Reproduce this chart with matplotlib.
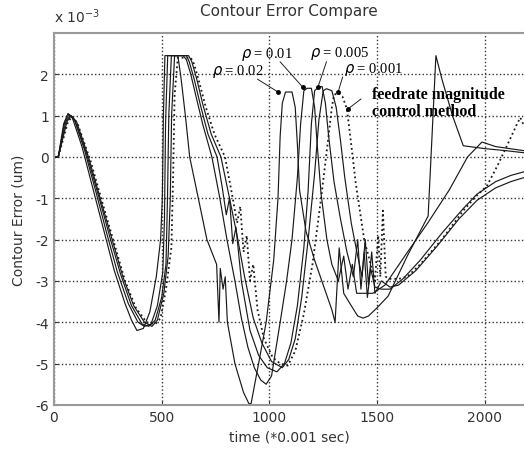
import numpy as np
import matplotlib
matplotlib.use("Agg")
import matplotlib.pyplot as plt

plt.rcParams['axes.unicode_minus'] = False
plt.rcParams['font.family'] = ['DejaVu Sans']

# curves: (time *0.001 s, contour error x1e-3 um)
rho_002 = [(0, 0), (20, 0), (45, 0.8), (65, 1.05), (85, 0.95), (130, 0.25), (180, -0.75),
           (230, -1.75), (280, -2.75), (330, -3.55), (360, -3.95), (385, -4.2), (415, -4.15),
           (445, -3.75), (475, -2.9), (495, -2.0), (503, -1.0), (508, 1.0), (515, 2.45),
           (575, 2.45), (590, 1.9), (610, 1.0), (630, 0), (670, -1.0), (710, -2.0),
           (755, -2.6), (766, -4.0), (772, -2.7), (785, -3.2), (795, -2.9), (805, -4.0),
           (840, -5.0), (880, -5.7), (905, -5.97), (915, -5.97), (950, -5.0), (985, -4.0),
           (1020, -2.5), (1040, -1.0), (1050, 0.5), (1060, 1.3), (1075, 1.57), (1105, 1.57),
           (1120, 1.2), (1130, 0.3), (1140, -0.8), (1170, -1.8), (1210, -2.5), (1250, -3.1),
           (1290, -3.7), (1305, -4.0), (1324, -2.2), (1345, -3.3), (1380, -3.6), (1410, -3.85),
           (1435, -3.9), (1460, -3.85), (1500, -3.65), (1551, -3.37), (1640, -2.4),
           (1737, -1.43), (1755, 0.5), (1773, 2.45), (1800, 1.9), (1850, 1.0), (1900, 0.27),
           (2000, 0.2), (2100, 0.15), (2182, 0.1)]

rho_001 = [(0, 0), (20, 0), (50, 0.85), (70, 1.03), (95, 0.9), (140, 0.2), (195, -0.85),
           (245, -1.85), (295, -2.8), (345, -3.55), (390, -4.0), (420, -4.1), (450, -4.05),
           (480, -3.6), (505, -2.8), (513, -1.5), (518, 0.8), (528, 2.45), (600, 2.45),
           (615, 2.35), (635, 2.0), (660, 1.45), (690, 0.8), (733, 0), (770, -1.0), (803, -2.0),
           (840, -3.0), (870, -3.9), (900, -4.6), (930, -5.1), (960, -5.4), (985, -5.5),
           (1010, -5.3), (1050, -4.0), (1080, -3.0), (1105, -2.0), (1130, -0.5), (1145, 0.8),
           (1160, 1.6), (1175, 1.66), (1195, 1.66), (1210, 1.2), (1222, 0.3), (1240, -0.9),
           (1267, -2.0), (1290, -2.6), (1320, -3.0), (1345, -2.4), (1365, -3.2), (1385, -2.6),
           (1405, -3.3), (1440, -3.3), (1480, -3.3), (1537, -3.1), (1635, -2.35), (1735, -1.6),
           (1835, -0.8), (1920, 0.0), (1987, 0.36), (2050, 0.25), (2182, 0.15)]

rho_0005 = [(0, 0), (20, 0), (55, 0.85), (75, 1.0), (100, 0.85), (150, 0.1), (210, -1.0),
            (260, -1.95), (310, -2.85), (360, -3.6), (410, -4.05), (440, -4.1), (470, -3.95),
            (500, -3.4), (520, -2.6), (527, -1.0), (533, 1.0), (545, 2.45), (615, 2.45),
            (628, 2.3), (650, 1.9), (680, 1.25), (715, 0.55), (757, 0), (780, -0.7), (800, -1.4),
            (815, -1.0), (830, -2.1), (845, -1.7), (870, -3.0), (910, -4.2), (950, -4.8),
            (990, -5.1), (1035, -5.2), (1070, -5.0), (1100, -4.5), (1130, -3.6), (1160, -2.2),
            (1180, -0.8), (1195, 0.8), (1210, 1.6), (1230, 1.7), (1245, 1.7), (1260, 1.3),
            (1275, 0.5), (1300, -0.6), (1330, -1.5), (1360, -2.3), (1390, -2.9), (1410, -2.0),
            (1425, -3.2), (1440, -2.3), (1455, -3.4), (1470, -2.7), (1490, -3.15), (1520, -3.2),
            (1560, -3.2), (1620, -2.95), (1700, -2.5), (1800, -1.85), (1900, -1.25),
            (1964, -0.9), (2050, -0.6), (2120, -0.45), (2182, -0.36)]

rho_0001 = [(0, 0), (20, 0), (60, 0.85), (80, 1.0), (105, 0.85), (160, 0.0), (220, -1.1),
            (270, -2.0), (320, -2.9), (370, -3.6), (420, -4.0), (455, -4.1), (480, -3.95),
            (510, -3.3), (530, -2.4), (540, -1.0), (546, 1.0), (560, 2.45), (625, 2.45),
            (640, 2.3), (662, 1.9), (692, 1.25), (730, 0.55), (775, 0), (815, -1.0),
            (850, -1.9), (885, -2.9), (925, -3.9), (965, -4.5), (1010, -4.95), (1060, -5.1),
            (1090, -4.9), (1120, -4.4), (1150, -3.4), (1180, -2.0), (1210, -0.4), (1230, 0.9),
            (1250, 1.6), (1265, 1.65), (1290, 1.6), (1310, 1.2), (1330, 0.4), (1350, -0.5),
            (1380, -1.6), (1410, -2.4), (1430, -2.9), (1445, -2.0), (1460, -3.1), (1475, -2.3),
            (1490, -3.3), (1520, -3.0), (1560, -3.15), (1600, -3.1), (1680, -2.75),
            (1780, -2.15), (1880, -1.5), (1964, -1.05), (2050, -0.75), (2120, -0.6),
            (2182, -0.5)]

feedrate = [(0, 0), (20, 0), (65, 0.85), (85, 0.98), (110, 0.8), (170, -0.1), (230, -1.2),
            (280, -2.1), (330, -3.0), (380, -3.65), (430, -4.0), (470, -4.05), (495, -3.9),
            (520, -3.2), (545, -2.2), (553, -0.5), (560, 1.5), (575, 2.4), (635, 2.4),
            (650, 2.25), (672, 1.85), (705, 1.2), (745, 0.55), (794, 0), (830, -1.0),
            (850, -1.6), (865, -1.2), (880, -2.3), (895, -1.9), (910, -3.0), (925, -2.6),
            (945, -3.7), (975, -4.4), (1015, -4.85), (1050, -5.0), (1085, -5.05), (1120, -4.7),
            (1160, -3.8), (1200, -2.6), (1240, -1.0), (1270, 0.3), (1290, 1.2), (1300, 1.5),
            (1320, 1.55), (1340, 1.45), (1360, 1.16), (1380, 0.3), (1400, -0.6), (1420, -1.3),
            (1440, -2.0), (1470, -2.6), (1490, -3.0), (1505, -1.9), (1515, -2.9), (1527, -1.3),
            (1540, -2.9), (1560, -2.95), (1600, -2.95), (1640, -2.9), (1700, -2.6),
            (1800, -2.0), (1900, -1.3), (1960, -0.95), (2010, -0.7), (2060, -0.2), (2110, 0.35),
            (2150, 0.8), (2165, 0.95), (2182, 0.75)]

# annotation labels: text, arrow tip, arrow start, text position
labels = [r'$\rho$ = 0.02', r'$\rho$ = 0.01', r'$\rho$ = 0.005', r'$\rho$ = 0.001']
tips = [(1040, 1.57), (1156, 1.68), (1226, 1.70), (1319, 1.57)]
starts = [(945, 1.88), (1050, 2.3), (1265, 2.3), (1340, 1.93)]
text_pos = [(735, 2.08), (870, 2.5), (1190, 2.52), (1345, 2.13)]
feed_tip = (1365, 1.16)
feed_start = (1425, 1.4)
feed_text_pos = (1476, 1.32)

fig = plt.figure(figsize=(5.24, 4.52), dpi=100)
ax = fig.add_axes([0.103, 0.102, 0.897, 0.823])

for curve in [rho_002, rho_001, rho_0005, rho_0001]:
    t, e = np.array(curve).T
    ax.plot(t, e, '-', color='#1a1a1a', lw=0.85)
t, e = np.array(feedrate).T
ax.plot(t, e, ':', color='#1a1a1a', lw=1.3)

for lab, tip, st, tp in zip(labels, tips, starts, text_pos):
    ax.plot([st[0], tip[0]], [st[1], tip[1]], '-', color='#222', lw=0.7)
    ax.plot(tip[0], tip[1], 'o', color='k', ms=2.5)
    ax.text(tp[0], tp[1], lab, fontsize=10.5, family='Liberation Serif', va='center', ha='left')
ax.plot([feed_start[0], feed_tip[0]], [feed_start[1], feed_tip[1]], '-', color='#222', lw=0.7)
ax.plot(feed_tip[0], feed_tip[1], 'o', color='k', ms=2.5)
ax.text(feed_text_pos[0], feed_text_pos[1], 'feedrate magnitude\ncontrol method', fontsize=11.5,
        family='Liberation Serif', weight='bold', va='center', ha='left', linespacing=1.05)

ax.set_xlim(0, 2182)
ax.set_ylim(-6, 3)
ax.set_xticks([0, 500, 1000, 1500, 2000])
ax.set_yticks([-6, -5, -4, -3, -2, -1, 0, 1, 2])
ax.grid(True, linestyle=':', color='#333', lw=1.0)
ax.tick_params(direction='in', length=3, labelsize=10, colors='#333')
for s in ['left', 'top', 'bottom']:
    ax.spines[s].set_color('#999')
    ax.spines[s].set_linewidth(1.5)
ax.spines['right'].set_visible(False)

ax.set_title('Contour Error Compare', fontsize=11, color='#333', pad=13)
ax.set_xlabel('time (*0.001 sec)', fontsize=10, color='#333', labelpad=4)
ax.set_ylabel('Contour Error (um)', fontsize=10, color='#333', labelpad=7)
ax.text(0.0, 1.02, r'x 10$^{-3}$', transform=ax.transAxes, fontsize=10, color='#333',
        va='bottom', ha='left')

fig.savefig('out.png', dpi=100)
